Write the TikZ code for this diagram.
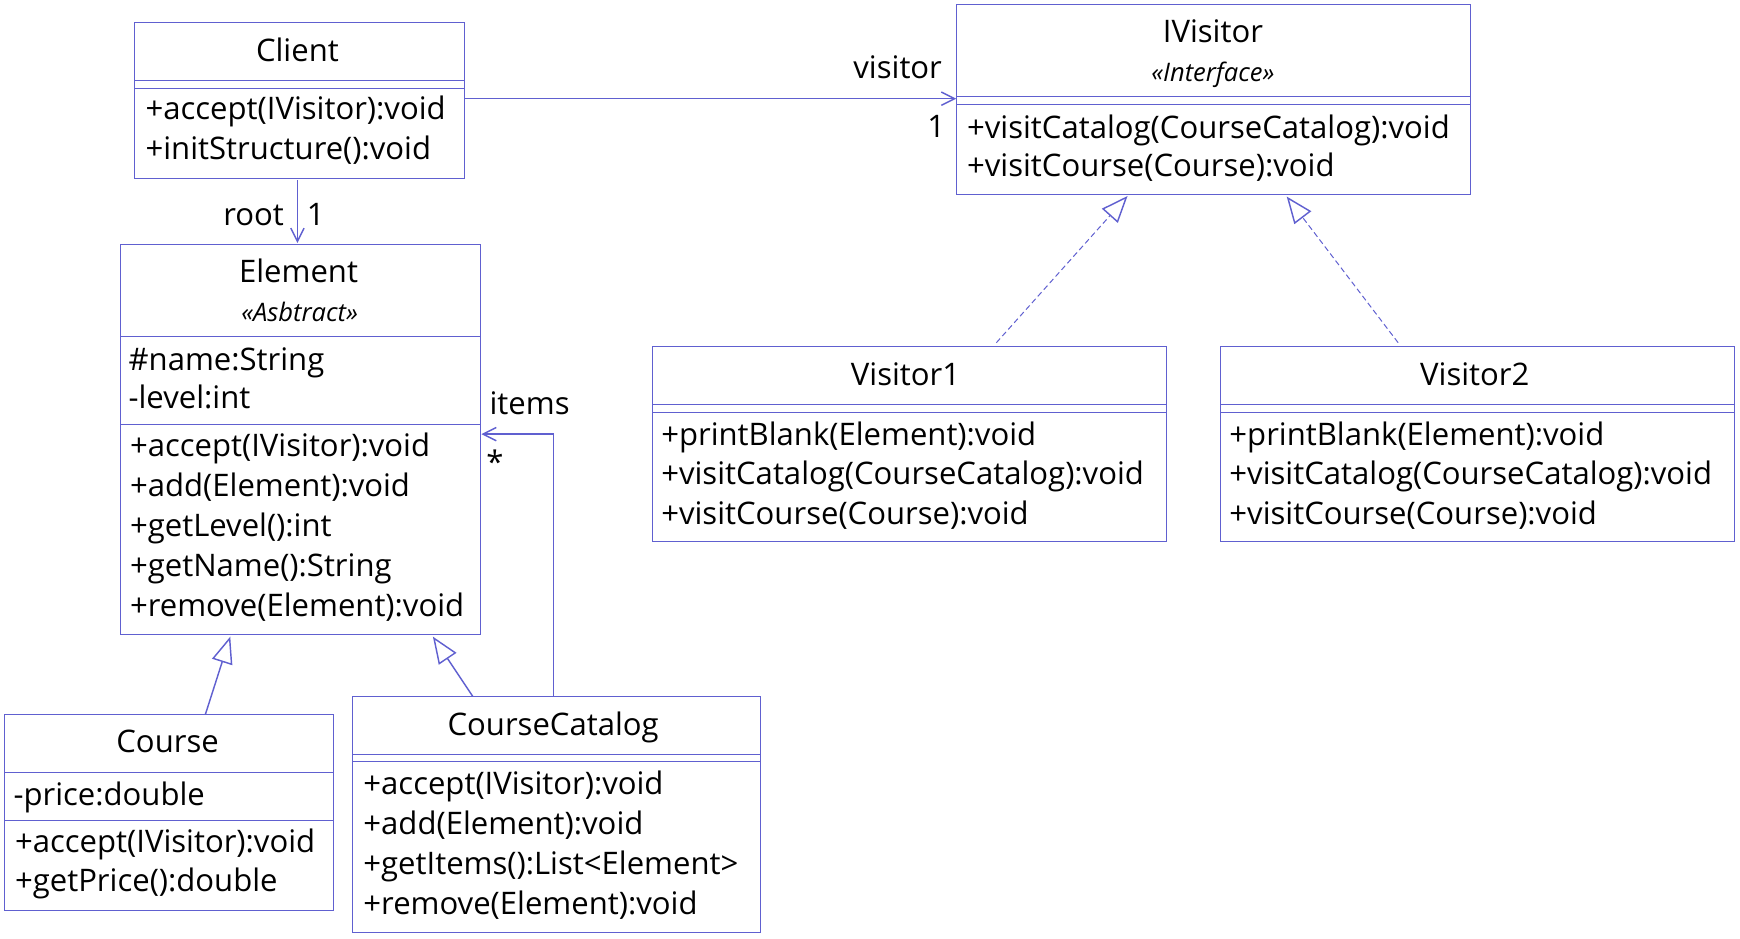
\documentclass[tikz,border=0pt]{standalone}
\usepackage{fontspec}
\setmainfont{Open Sans}
\usetikzlibrary{arrows.meta,calc}
\definecolor{uml}{RGB}{96,96,208}
\newcommand\classsep[2]{\draw[sepline] ($(#1.north west)+(0,#2)$) -- ($(#1.north east)+(0,#2)$);}
\tikzset{
  box/.style={draw=uml, line width=0.9pt, inner sep=0pt, outer sep=0pt, anchor=north west},
  sepline/.style={draw=uml, line width=0.9pt},
  ttl/.style={font=\fontsize{28}{32}\selectfont, inner sep=0pt, anchor=base},
  mem/.style={font=\fontsize{28}{32}\selectfont, inner sep=0pt, anchor=base west},
  stereo/.style={font=\fontsize{23}{27}\selectfont\itshape, inner sep=0pt, anchor=base},
  lbl/.style={font=\fontsize{28}{32}\selectfont, inner sep=0pt},
  assoc/.style={draw=uml, line width=1.3pt, -{Straight Barb[length=12pt,width=12pt]}},
  gen/.style={draw=uml, line width=1.3pt, -{Triangle[open,length=24pt,width=19pt]}},
  real/.style={draw=uml, line width=0.9pt, dash pattern=on 5pt off 3pt, -{Triangle[open,length=24pt,width=19pt,line width=1.3pt]}}
}
\begin{document}
\begin{tikzpicture}[x=1pt,y=-1pt]
\useasboundingbox (0,0) rectangle (1568,846);
% ---- Client
\node[box, minimum width=297.6pt, minimum height=140.7pt] (client) at (121,20) {};
\classsep{client}{52.4}\classsep{client}{59.6}
\node[ttl] (clientT) at (268,55) {Client};
\node[mem] (clientM1) at (131,107.8) {+accept(IVisitor):void};
\node[mem] (clientM2) at (131,143.8) {+initStructure():void};
% ---- Element
\node[box, minimum width=324.2pt, minimum height=351.5pt] (element) at (108.6,220) {};
\classsep{element}{83}\classsep{element}{162.4}
\node[ttl] (elementT) at (269,254.7) {Element};
\node[stereo] (elementS) at (270,290) {«Asbtract»};
\node[mem] (elementA1) at (115.7,333.5) {\#name:String};
\node[mem] (elementA2) at (115.7,368.5) {-level:int};
\node[mem] (elementM1) at (117,411.2) {+accept(IVisitor):void};
\node[mem] (elementM2) at (117,447.2) {+add(Element):void};
\node[mem] (elementM3) at (117,483.2) {+getLevel():int};
\node[mem] (elementM4) at (117,519.2) {+getName():String};
\node[mem] (elementM5) at (117,555.2) {+remove(Element):void};
% ---- Course
\node[box, minimum width=296.8pt, minimum height=176.3pt] (course) at (4,644) {};
\classsep{course}{52}\classsep{course}{95.5}
\node[ttl] (courseT) at (151,678.2) {Course};
\node[mem] (courseA1) at (12,726.2) {-price:double};
\node[mem] (courseM1) at (13.4,768.2) {+accept(IVisitor):void};
\node[mem] (courseM2) at (13.4,803.8) {+getPrice():double};
% ---- CourseCatalog
\node[box, minimum width=367.6pt, minimum height=212.8pt] (catalog) at (317.9,627.5) {};
\classsep{catalog}{52.5}\classsep{catalog}{59.1}
\node[ttl] (catalogT) at (498.5,662.5) {CourseCatalog};
\node[mem] (catalogM1) at (327.3,715.7) {+accept(IVisitor):void};
\node[mem] (catalogM2) at (327.3,751.7) {+add(Element):void};
\node[mem] (catalogM3) at (327.3,787.7) {+getItems():List<Element>};
\node[mem] (catalogM4) at (327.3,823.7) {+remove(Element):void};
% ---- IVisitor
\node[box, minimum width=463.3pt, minimum height=171.2pt] (ivisitor) at (861.7,3.9) {};
\classsep{ivisitor}{83.2}\classsep{ivisitor}{90.1}
\node[ttl] (ivisitorT) at (1093,38.5) {IVisitor};
\node[stereo] (ivisitorS) at (1093,73.6) {«Interface»};
\node[mem] (ivisitorM1) at (871.3,124.4) {+visitCatalog(CourseCatalog):void};
\node[mem] (ivisitorM2) at (871.3,159) {+visitCourse(Course):void};
% ---- Visitor1
\node[box, minimum width=462.7pt, minimum height=176.6pt] (visitor1) at (588.1,311.8) {};
\classsep{visitor1}{52.6}\classsep{visitor1}{59.5}
\node[ttl] (visitor1T) at (816,347) {Visitor1};
\node[mem] (visitor1M1) at (595.7,401.7) {+printBlank(Element):void};
\node[mem] (visitor1M2) at (595.7,436.8) {+visitCatalog(CourseCatalog):void};
\node[mem] (visitor1M3) at (595.7,472.3) {+visitCourse(Course):void};
% ---- Visitor2
\node[box, minimum width=462.9pt, minimum height=176.6pt] (visitor2) at (1100.1,311.8) {};
\classsep{visitor2}{52.6}\classsep{visitor2}{59.5}
\node[ttl] (visitor2T) at (1329,347) {Visitor2};
\node[mem] (visitor2M1) at (1107.7,401.7) {+printBlank(Element):void};
\node[mem] (visitor2M2) at (1107.7,436.8) {+visitCatalog(CourseCatalog):void};
\node[mem] (visitor2M3) at (1107.7,472.3) {+visitCourse(Course):void};
% ---- connectors
\coordinate (cv) at ($(client.north east)+(0,68.9)$);
\draw[assoc] (cv) -- (cv -| ivisitor.west);
\node[lbl, anchor=base east] (lblVisitor) at (849,70.6) {visitor};
\node[lbl, anchor=base] (lblOne1) at (843.8,123.8) {1};
\draw[assoc] ($(client.south west)+(147,1.8)$) -- ($(element.north west)+(159.4,-1)$);
\node[lbl, anchor=base east] (lblRoot) at (256,202.8) {root};
\node[lbl, anchor=base] (lblOne2) at (284.5,202.8) {1};
\draw[assoc] ($(catalog.north west)+(181.1,0)$) |- ($(element.north east)+(1,171.2)$);
\node[lbl, anchor=base west] (lblItems) at (441,373.4) {items};
\node[lbl, anchor=base] (lblStar) at (446,427) {*};
\draw[gen] ($(course.north west)+(181,0)$) -- ($(element.south west)+(98.9,2.2)$);
\draw[gen] ($(catalog.north west)+(108.1,0)$) -- ($(element.south west)+(281.5,2.2)$);
\draw[real] ($(visitor1.north west)+(309.8,-3)$) -- ($(ivisitor.south west)+(154.4,1.5)$);
\draw[real] ($(visitor2.north west)+(159.8,-3)$) -- ($(ivisitor.south west)+(297.8,2)$);
\end{tikzpicture}
\end{document}
